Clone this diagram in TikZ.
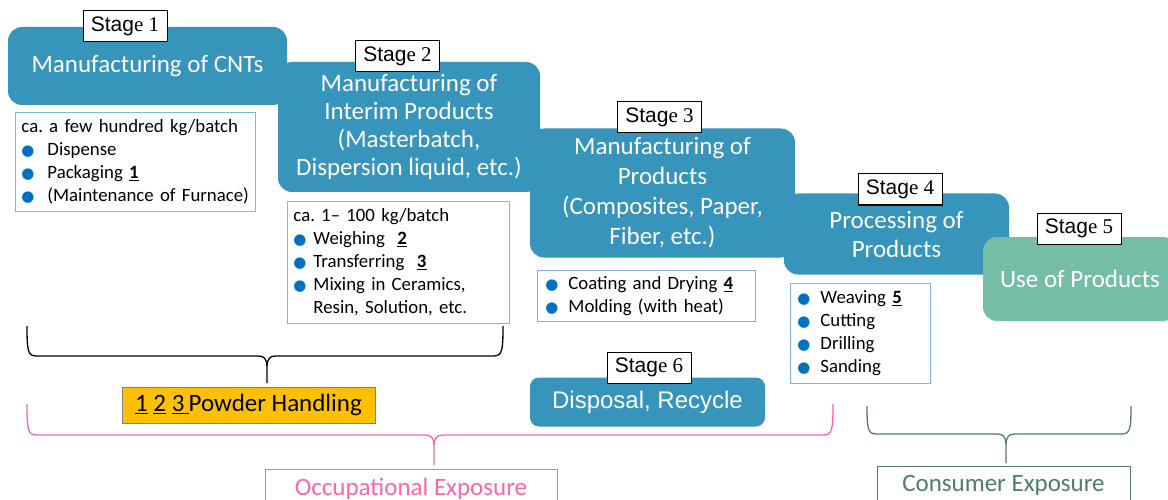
\documentclass[tikz,border=0pt]{standalone}
\usepackage{fontspec}
\setmainfont{Carlito}
\newfontfamily\labsans{Liberation Sans}
\newfontfamily\labserif{Liberation Serif}
\newfontfamily\dotfont{DejaVu Sans}
\frenchspacing

\definecolor{stageblue}{RGB}{55,148,187}
\definecolor{usegreen}{RGB}{118,189,168}
\definecolor{listblue}{RGB}{125,185,215}
\definecolor{dotblue}{RGB}{0,112,192}
\definecolor{powderorange}{RGB}{255,192,0}
\definecolor{occpink}{RGB}{255,100,170}
\definecolor{congreen}{RGB}{80,125,105}

\newcommand{\itm}[1][22pt]{\makebox[#1][l]{\textcolor{dotblue}{\dotfont\fontsize{15}{15}\selectfont ●}}}
\newcommand{\ulnum}[1]{\underline{\textbf{#1}}}
\newcommand{\stagetxt}[1]{{\labsans Stag}{\labserif e #1}}

\tikzset{
  stagebox/.style={fill=stageblue, rounded corners=14pt, text=white, align=center,
    font=\fontsize{25}{28}\selectfont, inner sep=0pt},
  stagelabel/.style={draw=black, fill=white, line width=1pt, inner sep=0pt,
    font=\fontsize{21}{22}\selectfont, minimum width=84pt, minimum height=31pt},
  listbox/.style={draw=listblue, line width=0.9pt, fill=white, align=left, anchor=north west,
    inner xsep=6pt, inner ysep=0pt, font=\fontsize{18.8}{23}\selectfont},
  exposurebox/.style={fill=white, line width=0.9pt, inner sep=0pt, font=\fontsize{25}{26}\selectfont},
  bracepath/.style={line width=1.3pt}
}

\begin{document}
\begin{tikzpicture}[x=1pt,y=-1pt]
\useasboundingbox (0,0) rectangle (1168,500);
\clip (0,0) rectangle (1168,500);

\node[stagebox, minimum width=279pt, minimum height=78pt] (s1) at (147.5,66) {Manufacturing of CNTs};
\node[stagebox, minimum width=262pt, minimum height=130pt] (s2) at (409,127)
  {Manufacturing of\\Interim Products\\(Masterbatch,\\Dispersion liquid, etc.)};
\node[stagebox, minimum width=265pt, minimum height=129pt, font=\fontsize{25}{30}\selectfont] (s3) at (662.5,193)
  {Manufacturing of\\Products\\(Composites, Paper,\\Fiber, etc.)};
\node[stagebox, minimum width=225pt, minimum height=81pt, font=\fontsize{25}{29}\selectfont] (s4) at (896.5,234)
  {Processing of\\Products};
\node[stagebox, fill=usegreen, minimum width=194pt, minimum height=84pt] (s5) at (1080,279) {Use of Products};
\node[stagebox, rounded corners=9pt, minimum width=235pt, minimum height=49pt, font=\labsans\fontsize{24}{26}\selectfont] (s6) at (647.5,402)
  {Disposal, Recycle};

\node[stagelabel] (t1) at (125,26.5) {\stagetxt{1}};
\node[stagelabel] (t2) at (397.5,56.5) {\stagetxt{2}};
\node[stagelabel] (t3) at (659.5,117.5) {\stagetxt{3}};
\node[stagelabel] (t4) at (900,189.5) {\stagetxt{4}};
\node[stagelabel] (t5) at (1079,228.5) {\stagetxt{5}};
\node[stagelabel] (t6) at (649,367.5) {\stagetxt{6}};

\node[listbox, text width=228pt, minimum height=99pt] (l1) at (15,112)
  {ca. a few hundred kg/batch\\ \itm[26pt]Dispense\\ \itm[26pt]Packaging \ulnum{1}\\ \itm[26pt](Maintenance of Furnace)};
\node[listbox, text width=210pt, minimum height=122pt] (l2) at (287,201)
  {ca. 1-- 100 kg/batch\\ \itm[20pt]Weighing\ \ \ulnum{2}\\ \itm[20pt]Transferring\ \ \ulnum{3}\\
   \itm[20pt]Mixing in Ceramics,\\ \hspace*{20pt}Resin, Solution, etc.};
\node[listbox, inner xsep=8pt, text width=202pt, minimum height=51pt] (l3) at (537,270)
  {\itm[23pt]Coating and Drying \ulnum{4}\\ \itm[23pt]Molding (with heat)};
\node[listbox, inner xsep=7pt, text width=126pt, minimum height=100pt] (l4) at (790,283)
  {\itm[23pt]Weaving \ulnum{5}\\ \itm[23pt]Cutting\\ \itm[23pt]Drilling\\ \itm[23pt]Sanding};

\draw[bracepath] (27,326) .. controls (27,352) and (28,356) .. (37,356) -- (258,356)
  .. controls (264,356) and (267,358) .. (267,368) -- (267,383)
  (267,368) .. controls (267,358) and (270,356) .. (276,356) -- (493,356)
  .. controls (502,356) and (503,352) .. (503,326);
\node[fill=powderorange, draw=gray, line width=0.9pt, inner sep=0pt, minimum width=253pt, minimum height=36pt,
  font=\fontsize{25}{26}\selectfont] (ph) at (248.5,405)
  {\underline{1} \underline{2} \underline{3\,}Powder Handling};

\draw[bracepath, occpink] (27,404) .. controls (27,431) and (28,435) .. (37,435) -- (425,435)
  .. controls (431,435) and (434,437) .. (434,447) -- (434,465)
  (434,447) .. controls (434,437) and (437,435) .. (443,435) -- (823,435)
  .. controls (832,435) and (833,431) .. (833,404);
\node[exposurebox, draw=occpink, text=occpink, minimum width=292pt, minimum height=40pt] (occ) at (411,489)
  {Occupational Exposure};

\draw[bracepath, congreen] (867,406) .. controls (867,430) and (868,434) .. (877,434) -- (997,434)
  .. controls (1003,434) and (1006,436) .. (1006,446) -- (1006,463)
  (1006,446) .. controls (1006,436) and (1009,434) .. (1015,434) -- (1121,434)
  .. controls (1130,434) and (1131,430) .. (1131,406);
\node[exposurebox, draw=congreen, text=congreen, minimum width=253pt, minimum height=38pt] (con) at (1003.5,485)
  {Consumer Exposure};
\end{tikzpicture}
\end{document}
